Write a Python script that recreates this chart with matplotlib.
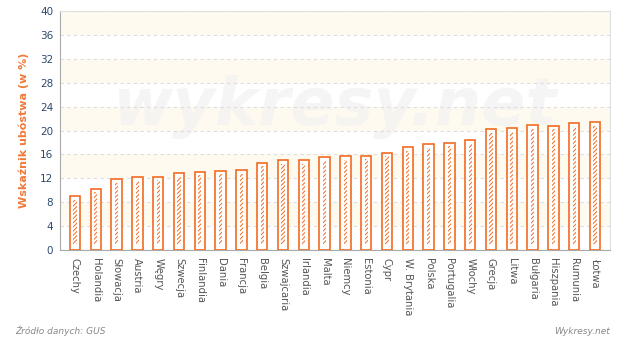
import matplotlib.pyplot as plt
import numpy as np

# Wskaźnik ubóstwa w krajach UE
countries = ["Czechy", "Holandia", "Słowacja", "Austria", "Węgry", "Szwecja",
             "Finlandia", "Dania", "Francja", "Belgia", "Szwajcaria", "Irlandia",
             "Malta", "Niemcy", "Estonia", "Cypr", "W. Brytania", "Polska",
             "Portugalia", "Włochy", "Grecja", "Litwa", "Bułgaria", "Hiszpania",
             "Rumunia", "Łotwa"]
values = [9.0, 10.3, 11.9, 12.2, 12.3, 12.9, 13.1, 13.3, 13.4, 14.6, 15.0, 15.0,
          15.5, 15.7, 15.8, 16.3, 17.2, 17.7, 18.0, 18.4, 20.2, 20.4, 20.9, 20.8,
          21.2, 21.4]
y_ticks = [0, 4, 8, 12, 16, 20, 24, 28, 32, 36, 40]

orange = '#F26B21'
navy = '#2B4A6F'

plt.rcParams['hatch.linewidth'] = 0.7

fig = plt.figure(figsize=(6.2, 3.37), dpi=100)
ax = fig.add_axes([0.0968, 0.258, 0.887, 0.709])

n = len(countries)
x = np.arange(n)

# alternating background bands
for lo in range(4, 40, 8):
    ax.axhspan(lo, lo + 4, color='#FEFAF0', zorder=0, lw=0)

# watermark
ax.text(0.5, 0.6, "wykresy.net", transform=ax.transAxes, ha='center', va='center',
        fontsize=47, fontweight='bold', style='italic', color='#F2F2F2',
        alpha=0.75, zorder=1)

ax.grid(axis='y', color='#DDDDDD', linestyle=(0, (3, 3)), linewidth=0.8, zorder=1)

ax.bar(x, values, width=0.5, color='white', edgecolor=orange, linewidth=1.2, zorder=3)
inner_h = [v - 1.6 for v in values]
ax.bar(x, inner_h, bottom=1.0, width=0.16, color='none', edgecolor=orange,
       hatch='////////', linewidth=0, zorder=4)

ax.set_xlim(-0.72, n - 1 + 0.72)
ax.set_ylim(0, 40)
ax.set_yticks(y_ticks)
ax.tick_params(axis='y', length=0, labelsize=7.5, labelcolor=navy, pad=5)
ax.set_xticks(x)
ax.set_xticklabels(countries, rotation=-90, fontsize=7.2, color='#555555')
ax.tick_params(axis='x', length=0, pad=6)

for side in ['top', 'right']:
    ax.spines[side].set_color('#E0E0E0')
for side in ['left', 'bottom']:
    ax.spines[side].set_color('#AAAAAA')

ax.set_ylabel("Wskaźnik ubóstwa (w %)", color='#F07A3A', fontsize=8, fontweight='bold', labelpad=8)

fig.text(15 / 620, 1 - 331 / 337, "Źródło danych: GUS", fontsize=6.5, style='italic',
         color='#888888', va='center', ha='left')
fig.text(610 / 620, 1 - 331 / 337, "Wykresy.net", fontsize=6.5, style='italic',
         color='#888888', va='center', ha='right')

fig.savefig('out.png', dpi=100)
